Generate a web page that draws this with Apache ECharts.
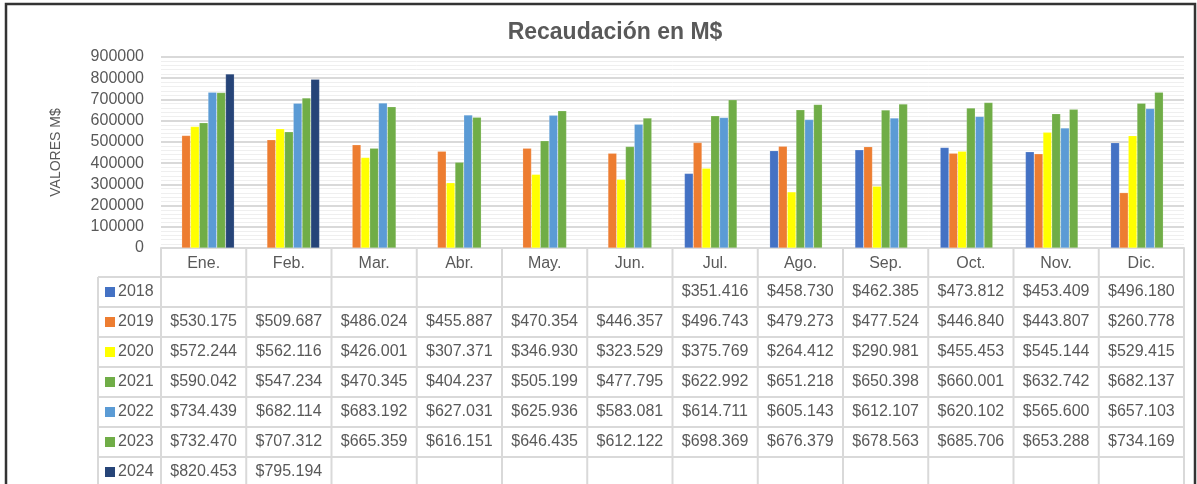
<!DOCTYPE html>
<html>
<head>
<meta charset="utf-8">
<title>Recaudación en M$</title>
<script src="https://cdn.jsdelivr.net/npm/echarts@6/dist/echarts.min.js"></script>
<style>
  * { box-sizing: border-box; margin: 0; padding: 0; }
  body { background: #fff; }
  #chart { width: 1197px; height: 484px; }
</style>
</head>
<body>
<div id="chart"></div>
<script>
  // categorias y series (valores en pesos, M$)
  const months = ['Ene.', 'Feb.', 'Mar.', 'Abr.', 'May.', 'Jun.', 'Jul.', 'Ago.', 'Sep.', 'Oct.', 'Nov.', 'Dic.'];
  const years = ['2018', '2019', '2020', '2021', '2022', '2023', '2024'];
  const yTicks = [0, 900000, 100000]; // min, max, interval

  const v2018 = [null, null, null, null, null, null, 351416, 458730, 462385, 473812, 453409, 496180];
  const v2019 = [530175, 509687, 486024, 455887, 470354, 446357, 496743, 479273, 477524, 446840, 443807, 260778];
  const v2020 = [572244, 562116, 426001, 307371, 346930, 323529, 375769, 264412, 290981, 455453, 545144, 529415];
  const v2021 = [590042, 547234, 470345, 404237, 505199, 477795, 622992, 651218, 650398, 660001, 632742, 682137];
  const v2022 = [734439, 682114, 683192, 627031, 625936, 583081, 614711, 605143, 612107, 620102, 565600, 657103];
  const v2023 = [732470, 707312, 665359, 616151, 646435, 612122, 698369, 676379, 678563, 685706, 653288, 734169];
  const v2024 = [820453, 795194, null, null, null, null, null, null, null, null, null, null];

  const values = [v2018, v2019, v2020, v2021, v2022, v2023, v2024];
  const colors = ['#4472C4', '#ED7D31', '#FFFF00', '#70AD47', '#5B9BD5', '#70AD47', '#264478'];

  const FONT = "'Liberation Sans', Arial, sans-serif";
  const TXT = '#595959';
  const LINE = '#d9d9d9';

  function fmt(v) {
    return '$' + String(v).replace(/\B(?=(\d{3})+(?!\d))/g, '.');
  }

  const myChart = echarts.init(document.getElementById('chart'));

  const option = {
    animation: false,
    title: {
      text: 'Recaudación en M$',
      left: 610,
      top: 16,
      textAlign: 'center',
      textStyle: { fontFamily: FONT, fontSize: 23, fontWeight: 'bold', color: TXT }
    },
    grid: { left: 161, right: 13, top: 57, bottom: 236 },
    xAxis: {
      type: 'category',
      data: months,
      axisTick: { show: false },
      axisLine: { lineStyle: { color: LINE, width: 2 } },
      axisLabel: { fontFamily: FONT, fontSize: 16, color: TXT, margin: 8 }
    },
    yAxis: {
      type: 'value',
      min: yTicks[0],
      max: yTicks[1],
      interval: yTicks[2],
      name: 'VALORES M$',
      nameLocation: 'middle',
      nameRotate: 90,
      nameGap: 98,
      nameTextStyle: { fontFamily: FONT, fontSize: 14, color: TXT },
      axisLabel: { fontFamily: FONT, fontSize: 16, color: TXT, margin: 17, formatter: v => String(v) },
      splitLine: { lineStyle: { color: LINE, width: 2 } },
      minorTick: { show: false, splitNumber: 5 },
      minorSplitLine: { show: true, lineStyle: { color: '#efefef', width: 1 } }
    },
    series: years.map((y, i) => ({
      name: y,
      type: 'bar',
      data: values[i],
      barGap: '0%',
      barCategoryGap: '28%',
      itemStyle: { color: colors[i], borderColor: 'rgba(255,255,255,0.35)', borderWidth: 0.5 }
    }))
  };

  myChart.setOption(option);

  // tabla de datos debajo del grafico
  function drawTable() {
    const c0 = myChart.convertToPixel({ xAxisIndex: 0 }, 0);
    const c1 = myChart.convertToPixel({ xAxisIndex: 0 }, 1);
    const bw = c1 - c0;
    const base = myChart.convertToPixel({ yAxisIndex: 0 }, 0);
    const left = c0 - bw / 2;
    const right = left + bw * months.length;
    const headH = 29;
    const rowH = 30;
    const legLeft = 98;
    const top = base + headH;
    const bottom = top + rowH * years.length;
    const g = [];

    const ln = (x1, y1, x2, y2) => g.push({
      type: 'line', silent: true,
      shape: { x1, y1, x2, y2 },
      style: { stroke: LINE, lineWidth: 2 }
    });

    // marco exterior
    g.push({
      type: 'rect', silent: true,
      shape: { x: 6, y: 4, width: 1189, height: 520 },
      style: { fill: 'none', stroke: '#333', lineWidth: 2.5 }
    });

    // verticales
    for (let i = 0; i <= months.length; i++) {
      ln(left + i * bw, base, left + i * bw, bottom);
    }
    ln(legLeft, top, legLeft, bottom);
    // horizontales
    for (let r = 0; r <= years.length; r++) {
      ln(legLeft, top + r * rowH, right, top + r * rowH);
    }

    years.forEach((y, r) => {
      const cy = top + r * rowH + rowH / 2;
      g.push({
        type: 'rect', silent: true,
        shape: { x: legLeft + 7, y: cy - 5, width: 10, height: 10 },
        style: { fill: colors[r] }
      });
      g.push({
        type: 'text', silent: true,
        x: legLeft + 20, y: cy,
        style: { text: y, fill: TXT, fontFamily: FONT, fontSize: 16, align: 'left', verticalAlign: 'middle' }
      });
      values[r].forEach((v, i) => {
        if (v == null) return;
        g.push({
          type: 'text', silent: true,
          x: left + i * bw + bw / 2, y: cy,
          style: { text: fmt(v), fill: TXT, fontFamily: FONT, fontSize: 16, align: 'center', verticalAlign: 'middle' }
        });
      });
    });

    myChart.setOption({ graphic: g });
  }

  drawTable();
</script>
</body>
</html>
